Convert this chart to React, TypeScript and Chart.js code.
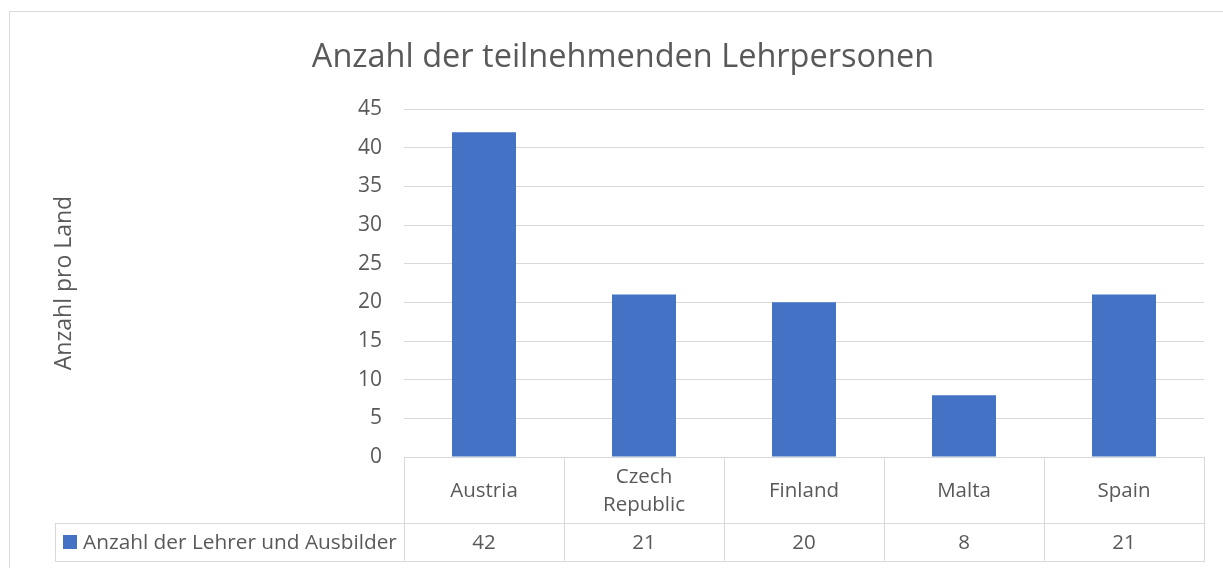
import React, { useEffect, useRef } from 'react';
import { Chart, registerables } from 'chart.js';

Chart.register(...registerables);

const chartTitle = 'Anzahl der teilnehmenden Lehrpersonen';
const yAxisTitle = 'Anzahl pro Land';
const categories: string[][] = [['Austria'], ['Czech', 'Republic'], ['Finland'], ['Malta'], ['Spain']];
const seriesName = 'Anzahl der Lehrer und Ausbilder';
const seriesValues = [42, 21, 20, 8, 21];
const yMin = 0;
const yMax = 45;
const yStep = 5;

const FONT = '"Open Sans", sans-serif';
const TEXT = '#595959';
const LINE = '#d9d9d9';
const BAR = '#4472C4';

export default function App() {
  const ref = useRef<HTMLCanvasElement>(null);

  useEffect(() => {
    if (!ref.current) return;
    const decor = {
      id: 'excelDecor',
      afterDraw(chart: any) {
        const ctx = chart.ctx as CanvasRenderingContext2D;
        const { left, right, top, bottom } = chart.chartArea;
        const xs = chart.scales.x;
        const n = categories.length;
        const headerH = 66;
        const valueH = 38;
        const legendLeft = 55;
        const rowMid = bottom + headerH;
        const rowEnd = rowMid + valueH;
        ctx.save();
        ctx.strokeStyle = LINE;
        ctx.lineWidth = 1;
        // chart outer border
        ctx.strokeRect(9.5, 11.5, 1400, 800);
        // title
        ctx.fillStyle = TEXT;
        ctx.font = `32.5px ${FONT}`;
        ctx.textAlign = 'center';
        ctx.textBaseline = 'middle';
        ctx.fillText(chartTitle, 623, 58);
        // y axis title
        ctx.save();
        ctx.translate(64, (top + bottom) / 2);
        ctx.rotate(-Math.PI / 2);
        ctx.font = `23px ${FONT}`;
        ctx.fillText(yAxisTitle, 0, 0);
        ctx.restore();
        // data table lines
        const bounds: number[] = [left];
        for (let i = 1; i < n; i++) {
          bounds.push(Math.round((xs.getPixelForValue(i - 1) + xs.getPixelForValue(i)) / 2));
        }
        bounds.push(right);
        ctx.beginPath();
        const h = (y: number, x0: number, x1: number) => {
          ctx.moveTo(x0, Math.round(y) + 0.5);
          ctx.lineTo(x1, Math.round(y) + 0.5);
        };
        const v = (x: number, y0: number, y1: number) => {
          ctx.moveTo(Math.round(x) + 0.5, y0);
          ctx.lineTo(Math.round(x) + 0.5, y1);
        };
        h(bottom, left, right);
        h(rowMid, legendLeft, right);
        h(rowEnd, legendLeft, right);
        bounds.forEach((b) => v(b, bottom, rowEnd + 1));
        v(legendLeft, rowMid, rowEnd + 1);
        ctx.stroke();
        // category labels and values
        ctx.font = `20.5px ${FONT}`;
        ctx.fillStyle = TEXT;
        for (let i = 0; i < n; i++) {
          const cx = xs.getPixelForValue(i);
          const lines = categories[i];
          const lh = 28;
          const y0 = bottom + headerH / 2 + 1 - ((lines.length - 1) * lh) / 2;
          lines.forEach((ln, k) => ctx.fillText(ln, cx, y0 + k * lh));
          ctx.fillText(String(seriesValues[i]), cx, rowMid + valueH / 2 + 1);
        }
        // legend key
        ctx.fillStyle = BAR;
        ctx.fillRect(63, rowMid + valueH / 2 - 7, 14, 14);
        ctx.fillStyle = TEXT;
        ctx.textAlign = 'left';
        ctx.font = `20.8px ${FONT}`;
        ctx.fillText(seriesName, 83, rowMid + valueH / 2 + 1);
        ctx.restore();
      },
    };

    const chart = new Chart(ref.current, {
      type: 'bar',
      data: {
        labels: categories.map((c) => c.join(' ')),
        datasets: [
          {
            label: seriesName,
            data: seriesValues,
            backgroundColor: BAR,
            barPercentage: 0.4,
            categoryPercentage: 1,
          },
        ],
      },
      options: {
        responsive: false,
        animation: false,
        devicePixelRatio: 1,
        layout: { padding: { top: 109, bottom: 111, left: 0, right: 19 } },
        plugins: {
          legend: { display: false },
          title: { display: false },
          tooltip: { enabled: false },
        },
        scales: {
          x: { display: false },
          y: {
            min: yMin,
            max: yMax,
            ticks: {
              stepSize: yStep,
              color: TEXT,
              font: { family: FONT, size: 21 },
              padding: 22,
            },
            grid: { color: LINE, drawTicks: false, lineWidth: 1 },
            border: { display: false },
            afterFit: (s: any) => {
              s.width = 404;
            },
          },
        },
      },
      plugins: [decor],
    });
    return () => chart.destroy();
  }, []);

  return (
    <div style={{ position: 'absolute', left: 0, top: 0, width: 1223, height: 568, background: '#fff' }}>
      <canvas ref={ref} width={1223} height={568} />
    </div>
  );
}
